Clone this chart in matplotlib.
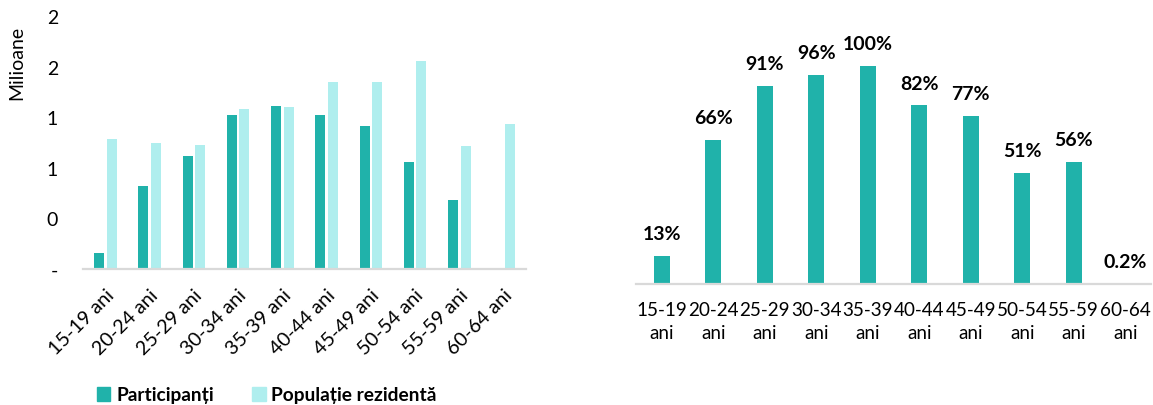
import matplotlib
matplotlib.use("Agg")
import matplotlib.pyplot as plt
from matplotlib.patches import Patch
import numpy as np

# Age groups
age_groups = ["15-19", "20-24", "25-29", "30-34", "35-39",
              "40-44", "45-49", "50-54", "55-59", "60-64"]

# Millions of people per age group
participants = [0.128, 0.655, 0.892, 1.219, 1.285, 1.219, 1.134, 0.847, 0.542, 0.0023]
resident_pop = [1.024, 0.997, 0.979, 1.266, 1.282, 1.480, 1.480, 1.648, 0.976, 1.150]

# Participation rate relative to the peak group (%)
rates = [13, 66, 91, 96, 100, 82, 77, 51, 56, 0.2]

# Left y-axis ticks (millions)
y_ticks = [0.0, 0.4, 0.8, 1.2, 1.6, 2.0]

legend_labels = ["Participanți", "Populație rezidentă"]

TEAL = "#20B2AA"
PALE = "#AFEEEE"
GRID = "#D9D9D9"
FONT = "Lato"
FS = 13.6

plt.rcParams["font.family"] = [FONT, "DejaVu Sans"]

W, H = 1153, 406
fig = plt.figure(figsize=(W / 100, H / 100), dpi=100)


def px_axes(x0, x1, y_top, y_base):
    return fig.add_axes([x0 / W, (H - y_base) / H, (x1 - x0) / W, (y_base - y_top) / H])


def clean(ax):
    for s in ("top", "right", "left"):
        ax.spines[s].set_visible(False)
    ax.spines["bottom"].set_color(GRID)
    ax.spines["bottom"].set_linewidth(1.6)
    ax.tick_params(length=0)


# ---- Left: participants vs resident population ----
ax1 = px_axes(83, 525.5, 17, 270)
clean(ax1)
x = np.arange(len(age_groups))
bw = 0.225
ax1.bar(x - 0.135, participants, bw, color=TEAL, zorder=2)
ax1.bar(x + 0.145, resident_pop, bw, color=PALE, zorder=2)
ax1.set_xlim(-0.5, len(age_groups) - 0.5)
ax1.set_ylim(y_ticks[0], y_ticks[-1])
ax1.set_yticks(y_ticks)
ax1.set_yticklabels(["-" if v == 0 else f"{v:.0f}" for v in y_ticks], fontsize=14)
ax1.tick_params(axis="y", pad=18)
ax1.set_xticks(x)
ax1.set_xticklabels([f"{g} ani" for g in age_groups], rotation=45, ha="right",
                    rotation_mode="anchor", fontsize=14.2)
ax1.tick_params(axis="x", pad=12)
fig.text(17 / W, 1 - 63 / H, "Milioane", rotation=90, ha="center", va="center", fontsize=14)

fig.legend(handles=[Patch(color=TEAL), Patch(color=PALE)], labels=legend_labels,
           loc="center left", bbox_to_anchor=(97 / W, 1 - 396 / H), ncol=2,
           frameon=False, borderpad=0, borderaxespad=0, handlelength=0.7,
           handleheight=0.7, handletextpad=0.3, columnspacing=2.0,
           prop={"family": FONT, "weight": "bold", "size": 13.8})

# ---- Right: participation rate ----
ax2 = px_axes(636, 1151, 40, 285)
clean(ax2)
ax2.bar(x, rates, 0.31, color=TEAL, zorder=2)
ax2.set_xlim(-0.5, len(age_groups) - 0.5)
ax2.set_ylim(0, 245 / 2.177)
ax2.set_yticks([])
ax2.set_xticks(x)
ax2.set_xticklabels([f"{g}\nani" for g in age_groups], fontsize=FS, linespacing=1.45)
ax2.tick_params(axis="x", pad=12)
for xi, r in zip(x, rates):
    txt = f"{r:.1f}%" if r < 1 else f"{r:.0f}%"
    ax2.annotate(txt, (xi, r), xytext=(0, 12.2), textcoords="offset points",
                 ha="center", va="baseline", fontsize=14, fontweight="bold",
                 annotation_clip=False)

fig.savefig("out.png", dpi=100)
